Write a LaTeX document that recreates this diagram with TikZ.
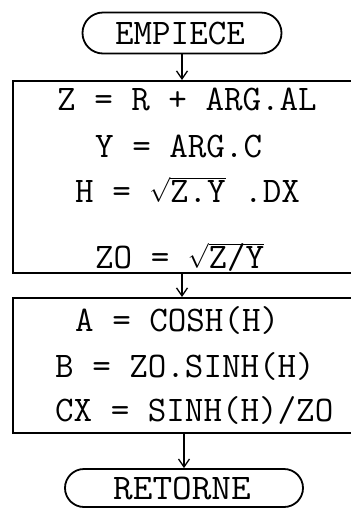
\documentclass[tikz,border=0pt]{standalone}
\usepackage{graphicx}
\usetikzlibrary{shapes.misc,arrows.meta}

\newcommand{\radtt}[1]{\(\sqrt{\smash{\texttt{#1}}\vphantom{\texttt{Z}}}\)}

\begin{document}
\begin{tikzpicture}[x=1pt,y=-1pt,
  >={Straight Barb[length=8pt,width=11pt]},
  term/.style={rounded rectangle,draw,line width=1.8pt,inner sep=0pt},
  blk/.style={rectangle,draw,line width=1.8pt,anchor=north west,inner sep=0pt},
  txt/.style={inner sep=0pt,anchor=base west,font=\fontsize{36}{42}\selectfont\ttfamily},
  arr/.style={->,line width=1.3pt}]
\useasboundingbox (0,0) rectangle (351,515);
\clip (0,0) rectangle (351,515);
\node[term,minimum width=199,minimum height=41] (start) at (182,33) {};
\node[txt,anchor=center] (empiece) at (180,33) {EMPIECE};
\node[blk,minimum width=348,minimum height=192] (calc1) at (12,80) {};
\node[txt] (zline) at (57,110) {Z = R + ARG.AL};
\node[txt] (yline) at (95,157) {Y = ARG.C};
\node[txt] (hline) at (75,202) {H = \radtt{Z.Y} .DX};
\node[txt] (zoline) at (95,268) {ZO = \radtt{Z/Y}};
\node[blk,minimum width=348,minimum height=135] (calc2) at (12,297) {};
\node[txt] (aline) at (75,331) {A = COSH(H)};
\node[txt] (bline) at (55,377) {B = ZO.SINH(H)};
\node[txt] (cxline) at (55,421) {CX = SINH(H)/ZO};
\node[term,minimum width=238,minimum height=38] (stop) at (184,488) {};
\node[txt,anchor=center] (retorne) at (182,488) {\scalebox{1.06}[1]{RETORNE}};
\draw[arr] (start.south) -- (start.south |- calc1.north);
\draw[arr] (calc1.south -| start) -- (calc2.north -| start);
\draw[arr] (calc2.south -| stop) -- (stop.north);
\end{tikzpicture}
\end{document}
